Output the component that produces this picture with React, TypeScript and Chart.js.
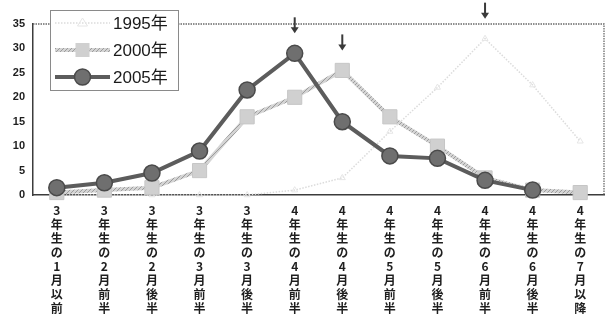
import { useEffect, useRef } from "react";
import { Chart, registerables } from "chart.js";

Chart.register(...registerables);

// Period categories (drawn vertically, one character per line)
const periodNames = [
  "3年生の1月以前",
  "3年生の2月前半",
  "3年生の2月後半",
  "3年生の3月前半",
  "3年生の3月後半",
  "4年生の4月前半",
  "4年生の4月後半",
  "4年生の5月前半",
  "4年生の5月後半",
  "4年生の6月前半",
  "4年生の6月後半",
  "4年生の7月以降",
];

const seriesNames = ["1995年", "2000年", "2005年"];

const values1995 = [0, 0, 0, 0, 0, 1, 3.5, 13, 22, 32, 22.5, 11];
const values2000 = [0.5, 1, 1.5, 5, 16, 20, 25.5, 16, 10, 3.5, 1, 0.5];
const values2005 = [1.5, 2.5, 4.5, 9, 21.5, 29, 15, 8, 7.5, 3, 1, null];

const yTicks = [0, 5, 10, 15, 20, 25, 30, 35];

const LABEL_FONT = '"Noto Sans CJK JP", "Noto Sans", sans-serif';
const NUM_FONT = '"Liberation Sans", "Noto Sans CJK JP", sans-serif';

function makeHatch(): CanvasPattern | string {
  const c = document.createElement("canvas");
  c.width = 4;
  c.height = 4;
  const g = c.getContext("2d");
  if (!g) return "#c4c4c4";
  g.fillStyle = "#d4d4d4";
  g.fillRect(0, 0, 4, 4);
  g.strokeStyle = "#9c9c9c";
  g.lineWidth = 1;
  g.beginPath();
  g.moveTo(0, 4);
  g.lineTo(4, 0);
  g.stroke();
  const p = g.createPattern(c, "repeat");
  return p || "#c4c4c4";
}

// Dotted frame along the top and right of the plot
const framePlugin = {
  id: "plotFrame",
  beforeDatasetsDraw(chart: any) {
    const { ctx, chartArea } = chart;
    const { left, right, top, bottom } = chartArea;
    ctx.save();
    ctx.strokeStyle = "#6a6a6a";
    ctx.lineWidth = 1.3;
    ctx.setLineDash([1.5, 1]);
    ctx.beginPath();
    ctx.moveTo(left, top);
    ctx.lineTo(right, top);
    ctx.lineTo(right, bottom);
    ctx.stroke();
    ctx.restore();
  },
};

// Down arrows marking each series' peak
const peakArrowPlugin = {
  id: "peakArrows",
  afterDatasetsDraw(chart: any) {
    const { ctx } = chart;
    const xs = chart.scales.x;
    const ys = chart.scales.y;
    ctx.save();
    ctx.strokeStyle = "#3a3a3a";
    ctx.fillStyle = "#3a3a3a";
    ctx.lineWidth = 2;
    chart.data.datasets.forEach((ds: any) => {
      let best = -1;
      let bestV = -Infinity;
      ds.data.forEach((v: number | null, i: number) => {
        if (v != null && v > bestV) {
          bestV = v;
          best = i;
        }
      });
      if (best < 0) return;
      const x = xs.getPixelForValue(best);
      const tip = ys.getPixelForValue(bestV) - 20;
      ctx.beginPath();
      ctx.moveTo(x, tip - 16);
      ctx.lineTo(x, tip - 4);
      ctx.stroke();
      ctx.beginPath();
      ctx.moveTo(x - 4, tip - 6);
      ctx.lineTo(x + 4, tip - 6);
      ctx.lineTo(x, tip);
      ctx.closePath();
      ctx.fill();
    });
    ctx.restore();
  },
};

// Boxed legend in the upper-left corner of the plot
const boxLegendPlugin = {
  id: "boxLegend",
  afterDraw(chart: any) {
    const { ctx, chartArea } = chart;
    const bx = chartArea.left + 17;
    const by = chartArea.top - 14;
    const bw = 128;
    const bh = 80;
    ctx.save();
    ctx.fillStyle = "#ffffff";
    ctx.fillRect(bx, by, bw, bh);
    ctx.strokeStyle = "#8a8a8a";
    ctx.lineWidth = 1;
    ctx.strokeRect(bx + 0.5, by + 0.5, bw, bh);
    [0, 1, 2].forEach((di, row) => {
      const ds = chart.data.datasets[di];
      const y = by + 13 + row * 27;
      const x0 = bx + 5;
      const x1 = bx + 60;
      const xm = (x0 + x1) / 2;
      ctx.save();
      ctx.strokeStyle = ds.borderColor;
      ctx.lineWidth = ds.borderWidth;
      ctx.setLineDash(ds.borderDash || []);
      ctx.beginPath();
      ctx.moveTo(x0, y);
      ctx.lineTo(x1, y);
      ctx.stroke();
      ctx.setLineDash([]);
      ctx.fillStyle = ds.pointBackgroundColor;
      ctx.strokeStyle = ds.pointBorderColor;
      ctx.lineWidth = ds.pointBorderWidth || 1;
      if (ds.pointStyle === "circle") {
        ctx.beginPath();
        ctx.arc(xm, y, 8, 0, Math.PI * 2);
        ctx.fill();
        ctx.stroke();
      } else if (ds.pointStyle === "rect") {
        ctx.fillRect(xm - 7, y - 7, 14, 14);
      } else {
        ctx.beginPath();
        ctx.moveTo(xm, y - 5);
        ctx.lineTo(xm + 5, y + 3);
        ctx.lineTo(xm - 5, y + 3);
        ctx.closePath();
        ctx.stroke();
      }
      ctx.restore();
      ctx.fillStyle = "#1a1a1a";
      ctx.font = `17px ${NUM_FONT}`;
      ctx.textBaseline = "middle";
      ctx.textAlign = "left";
      ctx.fillText(seriesNames[di], x1 + 3, y + 1);
    });
    ctx.restore();
  },
};

export default function App() {
  const canvasRef = useRef<HTMLCanvasElement | null>(null);

  useEffect(() => {
    const canvas = canvasRef.current;
    if (!canvas) return;
    const hatch = makeHatch();

    const chart = new Chart(canvas, {
      type: "line",
      data: {
        labels: periodNames.map((s) => Array.from(s)),
        datasets: [
          {
            label: seriesNames[0],
            data: values1995,
            order: 2,
            borderColor: "#dcdcdc",
            borderWidth: 1.5,
            borderDash: [1.5, 1.5],
            pointStyle: "triangle",
            pointRadius: 3.5,
            pointBackgroundColor: "rgba(255,255,255,0)",
            pointBorderColor: "#e6e6e6",
            pointBorderWidth: 1,
            tension: 0,
            clip: false,
          } as any,
          {
            label: seriesNames[1],
            data: values2000,
            order: 1,
            borderColor: hatch,
            borderWidth: 4,
            pointStyle: "rect",
            pointRadius: 10,
            pointBackgroundColor: "#d0d0d0",
            pointBorderColor: "#c6c6c6",
            pointBorderWidth: 1,
            tension: 0,
            clip: false,
          } as any,
          {
            label: seriesNames[2],
            data: values2005,
            order: 0,
            borderColor: "#5c5c5c",
            borderWidth: 4,
            pointStyle: "circle",
            pointRadius: 8,
            pointBackgroundColor: "#6f6f6f",
            pointBorderColor: "#4a4a4a",
            pointBorderWidth: 1.5,
            tension: 0,
            spanGaps: false,
            clip: false,
          } as any,
        ],
      },
      options: {
        animation: false,
        responsive: false,
        layout: { padding: { top: 24, right: 5, bottom: 0, left: 0 } },
        plugins: {
          legend: { display: false },
          tooltip: { enabled: false },
        },
        scales: {
          x: {
            offset: true,
            grid: { display: false, drawTicks: false },
            border: { display: true, color: "#3c3c3c", width: 1.5 },
            ticks: {
              autoSkip: false,
              maxRotation: 0,
              minRotation: 0,
              padding: 8,
              color: "#1e1e1e",
              font: { family: LABEL_FONT, size: 12, weight: "bold", lineHeight: 1.17 },
            },
            afterFit(scale: any) {
              scale.height = 125;
            },
          },
          y: {
            min: yTicks[0],
            max: yTicks[yTicks.length - 1],
            afterBuildTicks(scale: any) {
              scale.ticks = yTicks.map((v) => ({ value: v }));
            },
            grid: { display: false, drawTicks: false },
            border: { display: true, color: "#3c3c3c", width: 1.5, dash: [1.5, 1] },
            ticks: {
              padding: 8,
              color: "#1e1e1e",
              font: { family: NUM_FONT, size: 11, weight: "bold" },
            },
            afterFit(scale: any) {
              scale.width = 33;
            },
          },
        },
      },
      plugins: [framePlugin, peakArrowPlugin, boxLegendPlugin],
    });

    return () => chart.destroy();
  }, []);

  return (
    <div style={{ position: "fixed", left: 0, top: 0, width: 615, height: 320, background: "#fff" }}>
      <canvas ref={canvasRef} width={615} height={320} />
    </div>
  );
}
